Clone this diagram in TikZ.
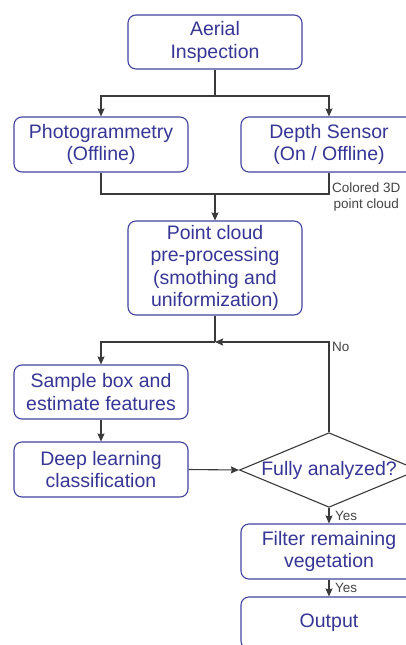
\documentclass[tikz,border=0pt]{standalone}
\usepackage{fontspec}
\setmainfont{Liberation Sans}
\usetikzlibrary{shapes.geometric,arrows.meta}
\definecolor{boxblue}{HTML}{4343A0}
\definecolor{txtblue}{HTML}{363696}
\definecolor{linegray}{HTML}{3A3A3A}
\definecolor{lblgray}{HTML}{444444}
\tikzset{
  box/.style={draw=boxblue, line width=1.1pt, rounded corners=8pt, text=txtblue,
    align=center, inner sep=0pt, font=\fontsize{19.5}{22.3}\selectfont},
  decision/.style={draw=linegray, line width=1.1pt, diamond, inner sep=0pt, aspect=2.4,
    text=txtblue, font=\fontsize{19.5}{22.3}\selectfont},
  conn/.style={draw=linegray, line width=1.1pt},
  arr/.style={conn, -{Stealth[length=8pt,width=7pt,inset=1pt]}},
  lbl/.style={text=lblgray, font=\fontsize{13.5}{16}\selectfont, inner sep=0pt, align=center}
}
\begin{document}
\begin{tikzpicture}[x=1pt,y=-1pt]
\useasboundingbox (0,0) rectangle (406,645);
\clip (0,0) rectangle (406,645);
\fill[white] (0,0) rectangle (406,645);

\node[box, minimum width=174pt, minimum height=54pt] (aerial) at (215,42) {Aerial\\Inspection};
\node[box, minimum width=174pt, minimum height=55pt] (photo) at (101,144.5) {Photogrammetry\\(Offline)};
\node[box, minimum width=176pt, minimum height=55pt] (depth) at (329,144.5) {Depth Sensor\\(On / Offline)};
\node[box, minimum width=174pt, minimum height=94pt] (pcloud) at (215,268) {Point cloud\\pre-processing\\(smothing and\\uniformization)};
\node[box, minimum width=174pt, minimum height=54pt] (sample) at (101,392) {Sample box and\\estimate features};
\node[box, minimum width=174pt, minimum height=55pt] (deep) at (101,469.5) {Deep learning\\classification};
\node[decision, minimum width=176pt, minimum height=73pt] (dec) at (329,470) {Fully analyzed?};
\node[box, minimum width=176pt, minimum height=55pt] (filter) at (329,551.5) {Filter remaining\\vegetation};
\node[box, minimum width=176pt, minimum height=52pt] (output) at (329,623) {Output};

\coordinate (j1) at (215,96);
\coordinate (j2) at (215,194);
\coordinate (j3) at (215,342);

\draw[conn] (aerial.south) -- (j1);
\draw[arr] (j1) -| (photo.north);
\draw[arr] (j1) -| (depth.north);
\draw[conn] (photo.south) |- (j2) -| (depth.south);
\draw[arr] (j2) -- (pcloud.north);
\draw[conn] (pcloud.south) -- (j3);
\draw[arr] (j3) -| (sample.north);
\draw[arr] (dec.north) |- (j3);
\draw[arr] (sample.south) -- (deep.north);
\draw[arr] (deep.east) -- (dec.west);
\draw[arr] (dec.south) -- (filter.north);
\draw[arr] (filter.south) -- (output.north);

\node[lbl, anchor=north west] (lcol) at (332,183) {Colored 3D\\point cloud};
\node[lbl, anchor=west] (lno) at (332,347) {No};
\node[lbl, anchor=west] (lyes1) at (335,516) {Yes};
\node[lbl, anchor=west] (lyes2) at (335,588) {Yes};
\end{tikzpicture}
\end{document}
